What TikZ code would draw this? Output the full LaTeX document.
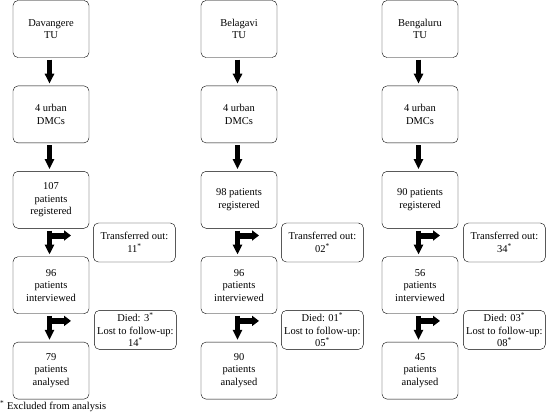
\documentclass[tikz,border=0pt]{standalone}
\usepackage{fontspec}
\setmainfont{Liberation Serif}
\usetikzlibrary{arrows.meta,positioning,calc}
\tikzset{
  stage/.style={draw, rounded corners=5pt, minimum width=76pt, minimum height=57pt,
    align=center, inner sep=2pt, font=\fontsize{10.5}{12.5}\selectfont},
  side/.style={draw, rounded corners=5pt, minimum width=82pt, minimum height=39pt,
    align=center, inner xsep=2pt, inner ysep=1pt, font=\fontsize{10.5}{12.5}\selectfont},
  downarrow/.style={line width=5pt, -{Triangle[length=10pt,width=9pt]}},
  sidearrow/.style={line width=6pt, -{Triangle[length=7pt,width=10pt]}}
}
\newcommand{\ex}{\textsuperscript{*}}
\begin{document}
\begin{tikzpicture}[x=1pt, y=-1pt]
        \useasboundingbox (0,0) rectangle (548,413);
        % Main boxes
        \node [stage] (dtu) at (51,29) {Davangere\\TU};
        \node [stage] (btu) at (239,29) {Belagavi\\TU};
        \node [stage] (ktu) at (420,29) {Bengaluru\\TU};
        \node [stage, below=28pt of dtu] (ddmc) {4 urban\\DMCs};
        \node [stage, below=28pt of btu] (bdmc) {4 urban\\DMCs};
        \node [stage, below=28pt of ktu] (kdmc) {4 urban\\DMCs};
        \node [stage, below=28pt of ddmc] (dreg) {107\\patients\\registered};
        \node [stage, below=28pt of bdmc] (breg) {98 patients\\registered};
        \node [stage, below=28pt of kdmc] (kreg) {90 patients\\registered};
        \node [stage, below=28pt of dreg] (dint) {96\\patients\\interviewed};
        \node [stage, below=28pt of breg] (bint) {96\\patients\\interviewed};
        \node [stage, below=28pt of kreg] (kint) {56\\patients\\interviewed};
        \node [stage, below=28pt of dint] (dana) {79\\patients\\analysed};
        \node [stage, below=28pt of bint] (bana) {90\\patients\\analysed};
        \node [stage, below=28pt of kint] (kana) {45\\patients\\analysed};
        % Excluded boxes
        \node [side, anchor=west] (dtr) at ($(dreg.south east)!0.5!(dint.north east)+(4,0)$)
            {Transferred out:\\11\ex};
        \node [side, anchor=west] (btr) at ($(breg.south east)!0.5!(bint.north east)+(4,0)$)
            {Transferred out:\\02\ex};
        \node [side, anchor=west] (ktr) at ($(kreg.south east)!0.5!(kint.north east)+(5,0)$)
            {Transferred out:\\34\ex};
        \node [side, anchor=west] (dlost) at ($(dint.south east)!0.5!(dana.north east)+(5,2)$)
            {Died: 3\ex\\Lost to follow-up:\\14\ex};
        \node [side, anchor=west] (blost) at ($(bint.south east)!0.5!(bana.north east)+(4,2)$)
            {Died: 01\ex\\Lost to follow-up:\\05\ex};
        \node [side, anchor=west] (klost) at ($(kint.south east)!0.5!(kana.north east)+(5,2)$)
            {Died: 03\ex\\Lost to follow-up:\\08\ex};
        % Arrows
        \foreach \a/\b in {dtu/ddmc, ddmc/dreg, dreg/dint, dint/dana,
                           btu/bdmc, bdmc/breg, breg/bint, bint/bana,
                           ktu/kdmc, kdmc/kreg, kreg/kint, kint/kana}
        {
        \draw [downarrow, shorten <=2pt, shorten >=2pt]
            ([xshift=-1.5pt]\a.south) -- ([xshift=-1.5pt]\b.north);
        }
        % Side arrows
        \foreach \a in {dreg, dint, breg, bint, kreg, kint}
        {
        \coordinate (\a-o) at ([shift={(1pt,-7pt)}]\a.south);
        \draw [sidearrow] (\a-o) -- ++(19,0);
        }
        % Footnote
        \node [anchor=base west, inner sep=0pt, font=\fontsize{10.5}{12}\selectfont] (note)
            at (0,409) {\ex\ Excluded from analysis};
\end{tikzpicture}
\end{document}
